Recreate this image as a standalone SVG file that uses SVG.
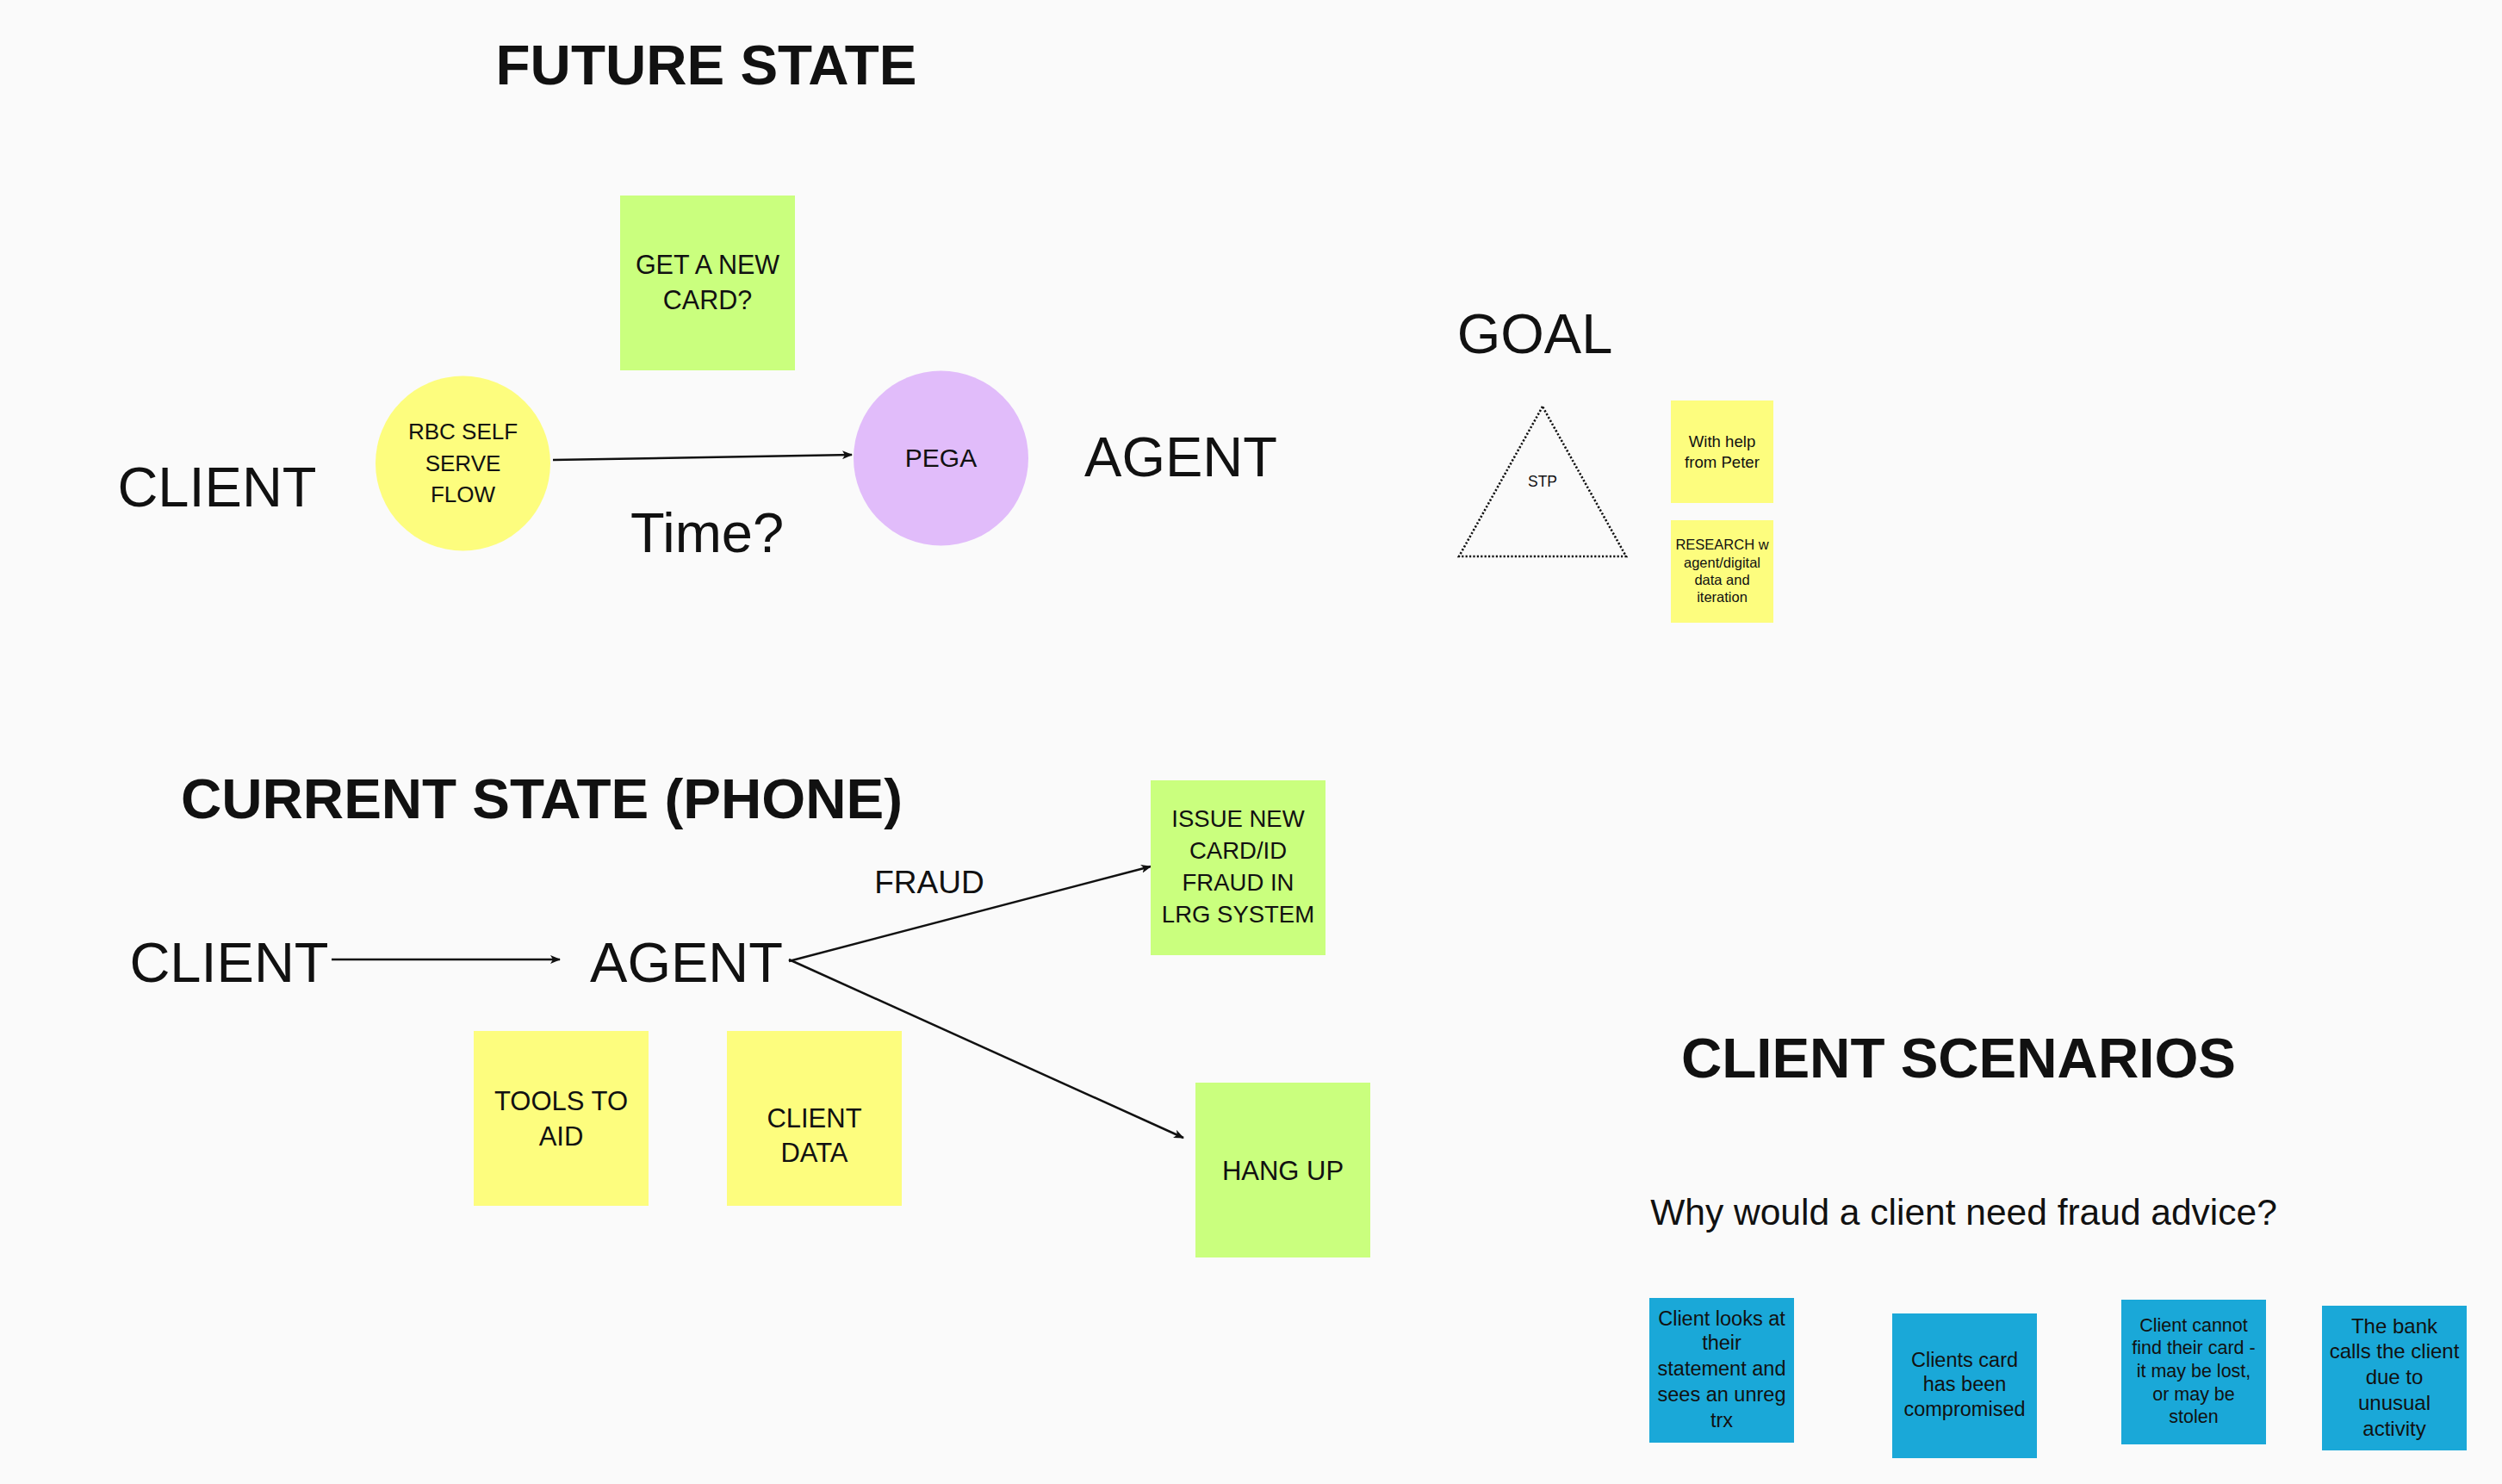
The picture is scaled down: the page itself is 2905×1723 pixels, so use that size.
<svg xmlns="http://www.w3.org/2000/svg" width="2905" height="1723" viewBox="0 0 2905 1723">
<defs>
<style>
text{font-family:"Liberation Sans",Arial,sans-serif;fill:#111;text-anchor:middle}
.title{font-weight:bold;font-size:65.5px}
.big{font-size:65px}
.yellow{fill:#fdfd7e}
.green{fill:#caff7e}
.purple{fill:#e1bcfa}
.blue{fill:#1aa8d8}
.conn{stroke:#111;stroke-width:2.5;fill:none;marker-end:url(#ah)}
</style>
<marker id="ah" viewBox="0 0 12 10" refX="11" refY="5" markerWidth="12" markerHeight="10" markerUnits="userSpaceOnUse" orient="auto">
<path d="M0,0 L12,5 L0,10 L3,5 Z" fill="#111"/>
</marker>
</defs>
<rect width="2905" height="1723" fill="#fafafa"/>

<g id="labels">
<text class="title" x="820" y="98">FUTURE STATE</text>
<text class="big" x="252" y="588">CLIENT</text>
<text class="big" x="821" y="641" font-size="63">Time?</text>
<text class="big" x="1371" y="553">AGENT</text>
<text class="big" x="1782" y="410" font-size="66">GOAL</text>
<text class="title" x="629" y="950" font-size="66.5">CURRENT STATE (PHONE)</text>
<text class="big" x="266" y="1140">CLIENT</text>
<text class="big" x="797" y="1140">AGENT</text>
<text x="1079" y="1037" font-size="37">FRAUD</text>
<text class="title" x="2274" y="1251">CLIENT SCENARIOS</text>
<text x="2280" y="1422" font-size="42.5">Why would a client need fraud advice?</text>
</g>

<g id="connectors">
<line class="conn" x1="642" y1="534" x2="989" y2="528"/>
<line class="conn" x1="385" y1="1114" x2="650" y2="1114"/>
<line class="conn" x1="916" y1="1116" x2="1336" y2="1006"/>
<line class="conn" x1="916" y1="1114" x2="1374" y2="1321"/>
</g>

<g id="rbc-self-serve">
<circle class="yellow" cx="537.5" cy="538" r="101.5"/>
<text x="537.5" y="510" font-size="26">RBC SELF</text>
<text x="537.5" y="546.5" font-size="26">SERVE</text>
<text x="537.5" y="582.5" font-size="26">FLOW</text>
</g>

<g id="get-new-card">
<rect class="green" x="720" y="227" width="203" height="203"/>
<text x="821.5" y="318" font-size="30.5">GET A NEW</text>
<text x="821.5" y="359" font-size="30.5">CARD?</text>
</g>

<g id="pega">
<circle class="purple" cx="1092.5" cy="532" r="101.5"/>
<text x="1092.5" y="542" font-size="30">PEGA</text>
</g>

<g id="stp">
<polygon points="1791,472 1694,646 1888,646" fill="none" stroke="#111" stroke-width="2.6" stroke-dasharray="2.2 2.2"/>
<text x="1791" y="565" font-size="17.5">STP</text>
</g>

<g id="with-help">
<rect class="yellow" x="1940" y="465" width="119" height="119"/>
<text x="1999.5" y="519" font-size="18.6">With help</text>
<text x="1999.5" y="542.5" font-size="18.6">from Peter</text>
</g>

<g id="research">
<rect class="yellow" x="1940" y="604" width="119" height="119"/>
<text x="1999.5" y="638" font-size="16.5">RESEARCH w</text>
<text x="1999.5" y="659" font-size="16.5">agent/digital</text>
<text x="1999.5" y="679" font-size="16.5">data and</text>
<text x="1999.5" y="699" font-size="16.5">iteration</text>
</g>

<g id="issue-new-card">
<rect class="green" x="1336" y="906" width="203" height="203"/>
<text x="1437.5" y="960" font-size="27.5">ISSUE NEW</text>
<text x="1437.5" y="997" font-size="27.5">CARD/ID</text>
<text x="1437.5" y="1034" font-size="27.5">FRAUD IN</text>
<text x="1437.5" y="1071" font-size="27.5">LRG SYSTEM</text>
</g>

<g id="hang-up">
<rect class="green" x="1388" y="1257" width="203" height="203"/>
<text x="1489.5" y="1370" font-size="31">HANG UP</text>
</g>

<g id="tools-to-aid">
<rect class="yellow" x="550" y="1197" width="203" height="203"/>
<text x="651.5" y="1288.5" font-size="31">TOOLS TO</text>
<text x="651.5" y="1329.5" font-size="31">AID</text>
</g>

<g id="client-data">
<rect class="yellow" x="844" y="1197" width="203" height="203"/>
<text x="945.5" y="1309" font-size="31">CLIENT</text>
<text x="945.5" y="1349" font-size="31">DATA</text>
</g>

<g id="scenario-1">
<rect class="blue" x="1915" y="1507" width="168" height="168"/>
<text x="1999" y="1539" font-size="23.5">Client looks at</text>
<text x="1999" y="1567" font-size="23.5">their</text>
<text x="1999" y="1597" font-size="23.5">statement and</text>
<text x="1999" y="1627" font-size="23.5">sees an unreg</text>
<text x="1999" y="1657" font-size="23.5">trx</text>
</g>

<g id="scenario-2">
<rect class="blue" x="2197" y="1525" width="168" height="168"/>
<text x="2281" y="1587" font-size="23.5">Clients card</text>
<text x="2281" y="1615" font-size="23.5">has been</text>
<text x="2281" y="1644" font-size="23.5">compromised</text>
</g>

<g id="scenario-3">
<rect class="blue" x="2463" y="1509" width="168" height="168"/>
<text x="2547" y="1546" font-size="21.5">Client cannot</text>
<text x="2547" y="1572" font-size="21.5">find their card -</text>
<text x="2547" y="1599" font-size="21.5">it may be lost,</text>
<text x="2547" y="1626" font-size="21.5">or may be</text>
<text x="2547" y="1652" font-size="21.5">stolen</text>
</g>

<g id="scenario-4">
<rect class="blue" x="2696" y="1516" width="168" height="168"/>
<text x="2780" y="1548" font-size="24">The bank</text>
<text x="2780" y="1577" font-size="24">calls the client</text>
<text x="2780" y="1607" font-size="24">due to</text>
<text x="2780" y="1637" font-size="24">unusual</text>
<text x="2780" y="1667" font-size="24">activity</text>
</g>
</svg>
